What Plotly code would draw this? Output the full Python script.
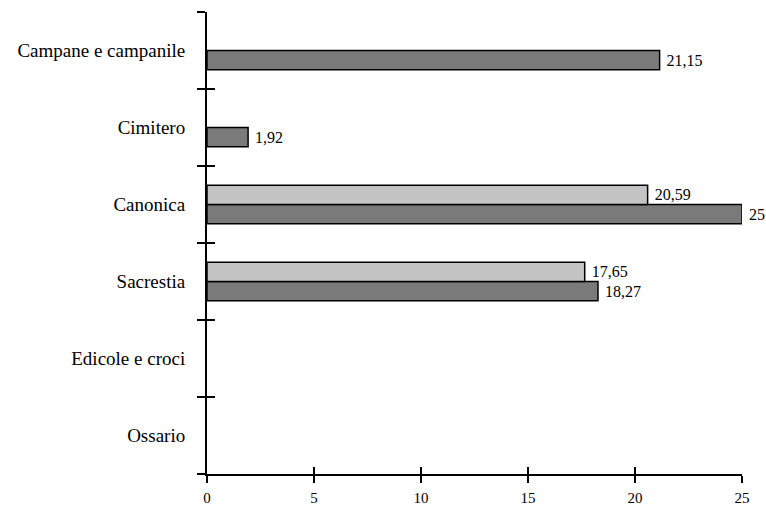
import plotly.graph_objects as go

categories = ["Ossario", "Edicole e croci", "Sacrestia", "Canonica", "Cimitero", "Campane e campanile"]
light_values = [None, None, 17.65, 20.59, None, None]
dark_values = [None, None, 18.27, 25, 1.92, 21.15]
x_ticks = [0, 5, 10, 15, 20, 25]


def fmt(v):
    if v is None:
        return ""
    s = ("%.2f" % v).rstrip("0").rstrip(".")
    return s.replace(".", ",")


FONT = "'Liberation Serif', 'Times New Roman', 'DejaVu Serif', serif"

fig = go.Figure()
fig.add_trace(go.Bar(
    y=categories, x=dark_values, orientation="h",
    marker=dict(color="#7a7a7a", line=dict(color="black", width=1.5)),
    text=[fmt(v) for v in dark_values], textposition="outside",
    texttemplate="\u00a0%{text}",
    textfont=dict(family=FONT, size=16, color="black"),
    cliponaxis=False, constraintext="none", showlegend=False, hoverinfo="skip",
))
fig.add_trace(go.Bar(
    y=categories, x=light_values, orientation="h",
    marker=dict(color="#c4c4c4", line=dict(color="black", width=1.5)),
    text=[fmt(v) for v in light_values], textposition="outside",
    texttemplate="\u00a0%{text}",
    textfont=dict(family=FONT, size=16, color="black"),
    cliponaxis=False, constraintext="none", showlegend=False, hoverinfo="skip",
))
# helper trace so the overlay axes (crossing ticks) are drawn
fig.add_trace(go.Scatter(
    x=[0], y=[categories[0]], xaxis="x2", yaxis="y2", mode="markers",
    marker=dict(opacity=0), showlegend=False, hoverinfo="skip",
))

fig.update_layout(
    width=766, height=508,
    margin=dict(l=207, r=24, t=12, b=34),
    paper_bgcolor="white", plot_bgcolor="white",
    barmode="group", bargap=0.5, bargroupgap=0,
    font=dict(family=FONT, size=17, color="black"),
    xaxis=dict(
        range=[0, 25], tickvals=x_ticks, ticktext=[str(t) for t in x_ticks],
        showgrid=False, zeroline=False, showline=True, linecolor="black", linewidth=2,
        ticks="outside", ticklen=7, tickwidth=2, tickcolor="black",
        tickfont=dict(family=FONT, size=15), ticklabelstandoff=2, automargin=False,
    ),
    yaxis=dict(
        type="category", categoryarray=categories, categoryorder="array",
        range=[-0.5, 5.5], showgrid=False, zeroline=False,
        showline=True, linecolor="black", linewidth=2,
        ticks="outside", ticklen=8, tickwidth=2, tickcolor="black", tickson="boundaries",
        tickfont=dict(family=FONT, size=19), ticklabelstandoff=16, automargin=False,
    ),
    xaxis2=dict(
        overlaying="x", anchor="y", side="bottom", range=[0, 25], tickvals=x_ticks,
        showticklabels=False, showgrid=False, zeroline=False, showline=False,
        ticks="inside", ticklen=7, tickwidth=2, tickcolor="black", automargin=False,
    ),
    yaxis2=dict(
        overlaying="y", anchor="x", side="left", type="category",
        categoryarray=categories, categoryorder="array", range=[-0.5, 5.5],
        showticklabels=False, showgrid=False, zeroline=False, showline=False,
        ticks="inside", ticklen=8, tickwidth=2, tickcolor="black", tickson="boundaries",
        automargin=False,
    ),
)

fig.write_html("out.html")
